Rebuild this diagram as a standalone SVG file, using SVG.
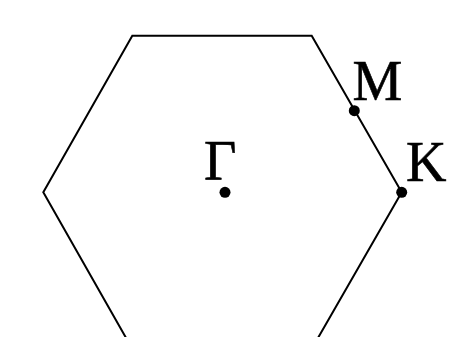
<svg xmlns="http://www.w3.org/2000/svg" width="471" height="337" viewBox="0 0 471 337">
<style>
.edge{fill:none;stroke:#000;stroke-width:2;stroke-linejoin:miter}
.pt{fill:#000}
.lbl{font-family:"Liberation Serif","Times New Roman",serif;font-size:56px;fill:#000;stroke:#000;stroke-width:0.6}
</style>
<rect width="471" height="337" fill="#fff"/>
<g id="connectors">
<polygon class="edge" points="132.3,35.7 311.7,35.7 401.7,192.3 311.7,348.9 132.3,348.9 43.3,192.3"/>
</g>
<g id="Gamma">
<circle class="pt" cx="225" cy="192.3" r="5.5"/>
<text class="lbl" x="204" y="180">Γ</text>
</g>
<g id="M">
<circle class="pt" cx="354.3" cy="110.7" r="5.5"/>
<text class="lbl" x="352.5" y="100">M</text>
</g>
<g id="K">
<circle class="pt" cx="401.7" cy="192.3" r="5.5"/>
<text class="lbl" x="406" y="181">K</text>
</g>
</svg>
